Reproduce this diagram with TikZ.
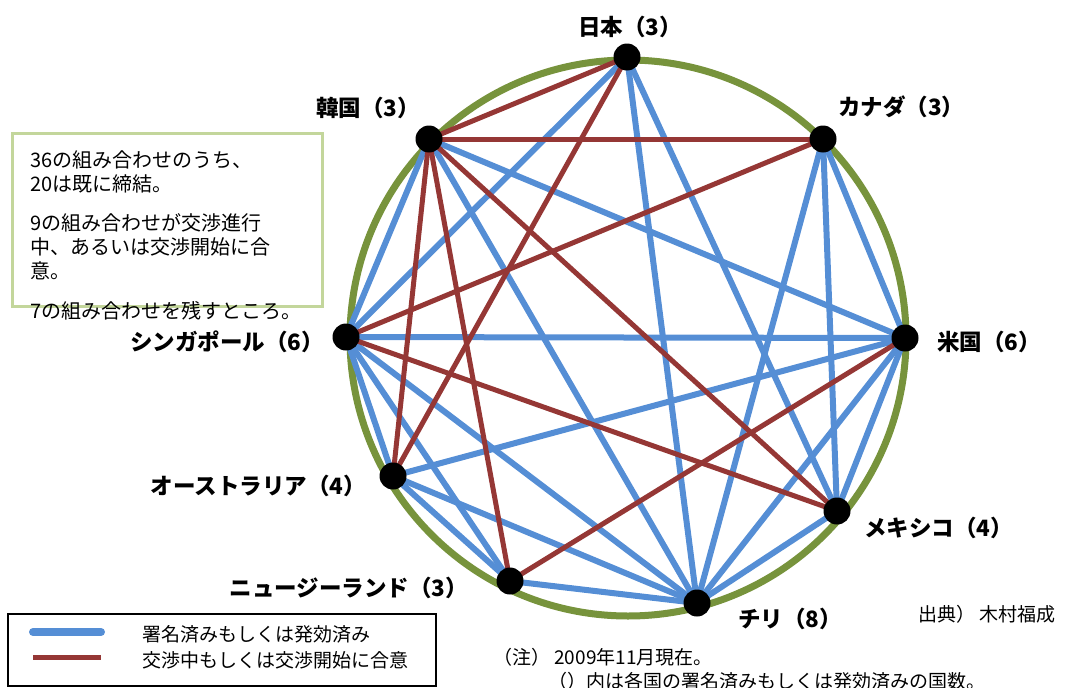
\documentclass[tikz,border=0pt]{standalone}
\usepackage{fontspec}
\setmainfont{Noto Sans CJK JP}
\definecolor{cblue}{RGB}{85,142,213}
\definecolor{cred}{RGB}{149,55,53}
\definecolor{cgreen}{RGB}{119,147,60}
\definecolor{cbox}{RGB}{195,214,155}
\begin{document}
\begin{tikzpicture}[x=1pt,y=-1pt,
  dot/.style={circle,fill=black,inner sep=0pt,minimum size=27pt},
  bl/.style={draw=cblue,line width=6pt},
  rd/.style={draw=cred,line width=5pt},
  lab/.style={font=\fontsize{22.5}{26}\selectfont\bfseries,inner sep=0pt},
  note/.style={font=\fontsize{19}{22}\selectfont,inner sep=0pt,anchor=west},
  boxtxt/.style={font=\fontsize{20}{23}\selectfont,inner sep=0pt,anchor=west}]
\useasboundingbox (0,0) rectangle (1069,688);
% circle
\draw[cgreen,line width=7pt] (628,338) circle[radius=278];
% nodes
\coordinate (jp) at (627,57);
\coordinate (kr) at (429,139);
\coordinate (ca) at (823,139);
\coordinate (us) at (905,338);
\coordinate (mx) at (837,511);
\coordinate (cl) at (697,603);
\coordinate (nz) at (510,581);
\coordinate (au) at (393,476);
\coordinate (sg) at (346,337);
% blue edges
\foreach \a/\b in {cl/jp,cl/ca,cl/us,cl/mx,cl/nz,cl/au,cl/sg,cl/kr,
  sg/jp,sg/kr,sg/us,sg/nz,sg/au,kr/us,jp/mx,au/nz,au/us,ca/us,ca/mx,us/mx}
  \draw[bl] (\a) -- (\b);
% red edges
\foreach \a/\b in {kr/jp,kr/ca,kr/au,kr/nz,kr/mx,sg/ca,sg/mx,nz/us,jp/au}
  \draw[rd] (\a) -- (\b);
% dots
\foreach \n in {jp,kr,ca,us,mx,cl,nz,au,sg}
  \node[dot] (d\n) at (\n) {};
% labels
\node[lab,anchor=center] (ljp) at (630,27) {日本（3）};
\node[lab,anchor=east] (lkr) at (420,108) {韓国（3）};
\node[lab,anchor=west] (lca) at (838,107) {カナダ（3）};
\node[lab,anchor=west] (lus) at (937,342) {米国（6）};
\node[lab,anchor=west] (lmx) at (864,528) {メキシコ（4）};
\node[lab,anchor=west] (lcl) at (738,619) {チリ（8）};
\node[lab,anchor=east] (lnz) at (468,588) {ニュージーランド（3）};
\node[lab,anchor=east] (lau) at (366,486) {オーストラリア（4）};
\node[lab,anchor=east] (lsg) at (324,342) {シンガポール（6）};
% text box
\draw[cbox,line width=3pt] (12,133) rectangle (322,306);
\node[boxtxt] (t1) at (30,160) {36の組み合わせのうち、};
\node[boxtxt] (t2) at (30,184) {20は既に締結。};
\node[boxtxt] (t3) at (30,223) {9の組み合わせが交渉進行};
\node[boxtxt] (t4) at (30,247) {中、あるいは交渉開始に合};
\node[boxtxt] (t5) at (30,271) {意。};
\node[boxtxt] (t6) at (30,311) {7の組み合わせを残すところ。};
% legend
\draw[black,line width=2pt] (8,614) rectangle (436,686);
\coordinate (b1) at (33,632); \coordinate (b2) at (101,632);
\coordinate (r1) at (33,657); \coordinate (r2) at (101,657);
\draw[cblue,line width=8pt,line cap=round] (b1) -- (b2);
\draw[cred,line width=5pt] (r1) -- (r2);
\node[note] (lg1) at (142,634) {署名済みもしくは発効済み};
\node[note] (lg2) at (142,660) {交渉中もしくは交渉開始に合意};
% notes
\node[note] (n1) at (493,657) {（注）\ 2009年11月現在。};
\node[note] (n2) at (548,681) {（）内は各国の署名済みもしくは発効済みの国数。};
\node[note] (src) at (918,614) {出典）\ 木村福成};
\end{tikzpicture}
\end{document}
